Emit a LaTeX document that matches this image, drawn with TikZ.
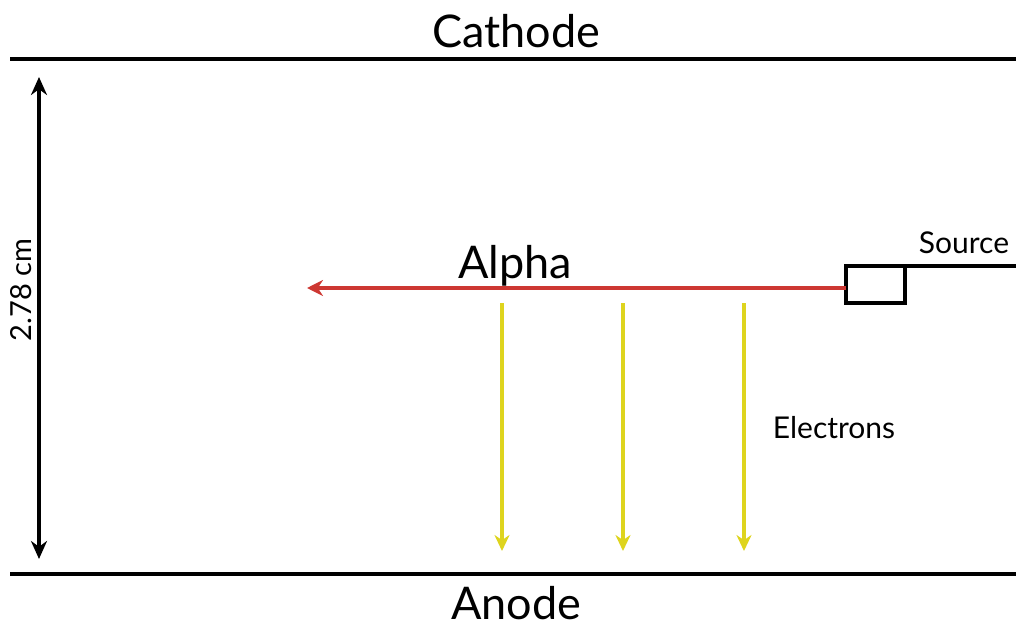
\documentclass[tikz,border=0pt]{standalone}
\usepackage{fontspec}
\setmainfont{Lato}
\usetikzlibrary{arrows.meta}
\definecolor{alphared}{RGB}{205,55,50}
\definecolor{elyellow}{RGB}{222,212,30}
\tikzset{
  plate/.style={line width=4pt, black},
  big/.style={font=\fontsize{45}{48}\selectfont, inner sep=0pt},
  small/.style={font=\fontsize{30}{34}\selectfont, inner sep=0pt},
  ealpha/.style={line width=3.5pt, alphared, -{Stealth[length=16pt,width=16pt]}},
  eel/.style={line width=3.5pt, elyellow, -{Stealth[length=16pt,width=15pt]}},
  dim/.style={line width=4pt, black, {Stealth[length=18pt,width=16pt]}-{Stealth[length=18pt,width=16pt]}},
  srcline/.style={line width=4pt, black}
}
\begin{document}
\begin{tikzpicture}[x=1pt,y=-1pt]
\useasboundingbox (0,0) rectangle (1016,628);
% plates
\coordinate (cl) at (10,59);
\coordinate (cr) at (1016,59);
\coordinate (al) at (10,574);
\coordinate (ar) at (1016,574);
\draw[plate] (cl) -- (cr);
\draw[plate] (al) -- (ar);
\node[big] (cathode) at (516,31) {Cathode};
\node[big] (anode) at (516,603) {Anode};
% dimension
\coordinate (dt) at (39,77);
\coordinate (db) at (39,559);
\draw[dim] (dt) -- (db);
\node[font=\fontsize{29}{32}\selectfont, inner sep=0pt, rotate=90] (dimlbl) at (21,290) {2.78 cm};
% source
\coordinate (sbl) at (846,303);
\coordinate (str) at (905,266);
\coordinate (srcend) at (1016,266);
\draw[srcline] (sbl) rectangle (str);
\draw[srcline] (str) -- (srcend);
\node[small] (srclbl) at (964,243) {Source};
% alpha
\coordinate (astart) at (846,288);
\coordinate (atip) at (307,288);
\draw[ealpha] (astart) -- (atip);
\node[big] (alpha) at (515,266) {Alpha};
% electrons
\coordinate (e1s) at (502,303);
\coordinate (e1e) at (502,551);
\coordinate (e2s) at (623,303);
\coordinate (e2e) at (623,551);
\coordinate (e3s) at (744,303);
\coordinate (e3e) at (744,551);
\draw[eel] (e1s) -- (e1e);
\draw[eel] (e2s) -- (e2e);
\draw[eel] (e3s) -- (e3e);
\node[small] (ellbl) at (834,428) {Electrons};
\end{tikzpicture}
\end{document}
